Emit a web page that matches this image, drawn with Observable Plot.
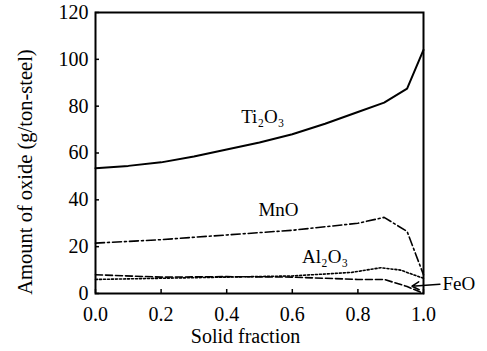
<!DOCTYPE html>
<html><head><meta charset="utf-8">
<script src="https://cdn.jsdelivr.net/npm/d3@7"></script>
<script src="https://cdn.jsdelivr.net/npm/@observablehq/plot@0.6"></script>
<style>body{margin:0;background:#fff}</style>
</head><body><div id="chart"></div>
<script>
const xTicks = [0, 0.2, 0.4, 0.6, 0.8, 1.0];
const yTicks = [0, 20, 40, 60, 80, 100, 120];
const tiX = [0, 0.1, 0.2, 0.3, 0.4, 0.5, 0.6, 0.7, 0.8, 0.88, 0.95, 1.0];
const tiY = [53.5, 54.5, 56, 58.5, 61.5, 64.5, 68, 72.5, 77.5, 81.5, 87.5, 104];
const mnX = [0, 0.2, 0.4, 0.6, 0.8, 0.88, 0.95, 1.0];
const mnY = [21.5, 23, 25, 27, 30, 32.5, 26.5, 8];
const alX = [0, 0.2, 0.4, 0.6, 0.78, 0.87, 0.93, 1.0];
const alY = [6, 6.5, 7, 7.5, 9, 11, 10, 6.5];
const feX = [0, 0.2, 0.4, 0.6, 0.8, 0.88, 0.95, 1.0];
const feY = [8, 7, 7.2, 7, 6, 6, 3, 0];
const curveLabels = [
  {x: 0.51, y: 75.5, t: "Ti\u2082O\u2083"},
  {x: 0.558, y: 35.5, t: "MnO"},
  {x: 0.70, y: 15.5, t: "Al\u2082O\u2083"}
];
const feLabel = [{x: 1.058, y: 4.3, t: "FeO"}];
const arrow = [{x1: 1.05, y1: 3.9, x2: 0.965, y2: 3.1}];

const mk = (xs, ys) => xs.map((x, i) => ({x, y: ys[i]}));
const font = "Liberation Serif, DejaVu Serif, serif";

const chart = Plot.plot({
  width: 487, height: 351,
  marginLeft: 95, marginRight: 64, marginTop: 12, marginBottom: 58,
  style: {fontFamily: font, fontSize: "20px", color: "#000", background: "#fff"},
  x: {domain: [0, 1], label: null},
  y: {domain: [0, 120], label: null},
  marks: [
    Plot.axisX({ticks: xTicks, tickFormat: d3.format(".1f"), tickSize: 0, tickPadding: 13, fontSize: 20, label: null}),
    Plot.axisY({ticks: yTicks, tickSize: 0, tickPadding: 7, fontSize: 20, label: null}),
    Plot.tickX(xTicks, {x: d => d, insetTop: 277, stroke: "#000", strokeWidth: 1.5}),
    Plot.tickY(yTicks, {y: d => d, insetRight: 324, stroke: "#000", strokeWidth: 1.5}),
    Plot.frame({stroke: "#000", strokeWidth: 2}),
    Plot.line(mk(tiX, tiY), {x: "x", y: "y", stroke: "#000", strokeWidth: 2}),
    Plot.line(mk(mnX, mnY), {x: "x", y: "y", stroke: "#000", strokeWidth: 1.6, strokeDasharray: "9,3,2,3"}),
    Plot.line(mk(alX, alY), {x: "x", y: "y", stroke: "#000", strokeWidth: 1.6, strokeDasharray: "2,2"}),
    Plot.line(mk(feX, feY), {x: "x", y: "y", stroke: "#000", strokeWidth: 1.6, strokeDasharray: "7,3"}),
    Plot.arrow(arrow, {x1: "x1", y1: "y1", x2: "x2", y2: "y2", stroke: "#000", strokeWidth: 1.5, headLength: 8, clip: false}),
    Plot.text(curveLabels, {x: "x", y: "y", text: "t", textAnchor: "middle", fontSize: 19, fill: "#000"}),
    Plot.text(feLabel, {x: "x", y: "y", text: "t", textAnchor: "start", fontSize: 19, fill: "#000"}),
    Plot.text(["Amount of oxide (g/ton-steel)"], {frameAnchor: "left", textAnchor: "middle", rotate: -90, dx: -70, dy: 19, fontSize: 20.5, fill: "#000"}),
    Plot.text(["Solid fraction"], {frameAnchor: "bottom", textAnchor: "middle", dx: -14, dy: 49, fontSize: 20, fill: "#000"})
  ]
});
document.getElementById("chart").appendChild(chart);
</script></body></html>
